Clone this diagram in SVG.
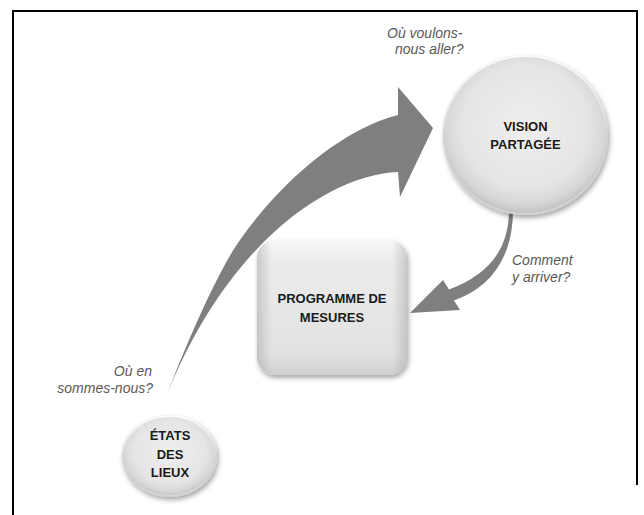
<svg xmlns="http://www.w3.org/2000/svg" width="644" height="515" viewBox="0 0 644 515">
  <defs>
    <style>
      .frame { stroke: #000; stroke-width: 2; fill: none; }
      .arrow { fill: #7f7f7f; }
      .q { font-family: "Liberation Sans", Arial, sans-serif; font-style: italic; font-size: 14px; fill: #595959; }
      .lbl { font-family: "Liberation Sans", Arial, sans-serif; font-weight: bold; font-size: 13px; fill: #1a1a1a; text-anchor: middle; }
    </style>
    <radialGradient id="gCircle" cx="50%" cy="45%" r="55%">
      <stop offset="0%" stop-color="#efefef"/>
      <stop offset="70%" stop-color="#e5e5e5"/>
      <stop offset="88%" stop-color="#d6d6d6"/>
      <stop offset="100%" stop-color="#bdbdbd"/>
    </radialGradient>
    <linearGradient id="gRim" x1="0" y1="0" x2="0" y2="1">
      <stop offset="0%" stop-color="#ffffff" stop-opacity="0.9"/>
      <stop offset="50%" stop-color="#ffffff" stop-opacity="0"/>
      <stop offset="100%" stop-color="#ffffff" stop-opacity="0.3"/>
    </linearGradient>
    <linearGradient id="gSqV" x1="0" y1="0" x2="0" y2="1">
      <stop offset="0%" stop-color="#f7f7f7"/>
      <stop offset="15%" stop-color="#ececec"/>
      <stop offset="85%" stop-color="#e2e2e2"/>
      <stop offset="100%" stop-color="#cfcfcf"/>
    </linearGradient>
    <linearGradient id="gSqH" x1="0" y1="0" x2="1" y2="0">
      <stop offset="0%" stop-color="#a0a0a0" stop-opacity="0.45"/>
      <stop offset="10%" stop-color="#a0a0a0" stop-opacity="0"/>
      <stop offset="90%" stop-color="#a0a0a0" stop-opacity="0"/>
      <stop offset="100%" stop-color="#a0a0a0" stop-opacity="0.45"/>
    </linearGradient>
    <filter id="shadow" x="-20%" y="-20%" width="150%" height="150%">
      <feDropShadow dx="1.5" dy="3" stdDeviation="2.5" flood-color="#000" flood-opacity="0.35"/>
    </filter>
  </defs>

  <rect width="644" height="515" fill="#ffffff"/>

  <g id="frame">
    <path class="frame" d="M13,515 V11 H637 V485"/>
  </g>

  <g id="connectors">
    <g id="arrow-etats-vision">
      <path class="arrow" d="M167.5,393 C180,360 215,275 240,240 C280,183 340,130 398,115 L398,87 L433,128 L400,197 L398,172 C330,175 230,240 167.5,393 Z"/>
    </g>
    <g id="arrow-vision-programme">
      <path class="arrow" d="M509,210 C509,250 488,275 449,289.5 L443,280 L410,313 L460,310 L454,300.5 C490,288 513,258 513,210 Z"/>
    </g>
  </g>

  <g id="node-vision">
    <ellipse cx="525.5" cy="135" rx="82.5" ry="80" fill="url(#gCircle)" filter="url(#shadow)"/>
    <ellipse cx="525.5" cy="135" rx="81.5" ry="79" fill="none" stroke="url(#gRim)" stroke-width="2"/>
    <text class="lbl" x="525.5" y="130.5">VISION</text>
    <text class="lbl" x="525.5" y="149">PARTAGÉE</text>
  </g>

  <g id="node-programme">
    <rect x="257" y="240" width="150" height="135" rx="18" fill="url(#gSqV)" filter="url(#shadow)"/>
    <rect x="257" y="240" width="150" height="135" rx="18" fill="url(#gSqH)"/>
    <text class="lbl" x="332" y="303">PROGRAMME DE</text>
    <text class="lbl" x="332" y="322">MESURES</text>
  </g>

  <g id="node-etats">
    <ellipse cx="169.5" cy="456" rx="47.5" ry="41" fill="url(#gCircle)" filter="url(#shadow)"/>
    <ellipse cx="169.5" cy="456" rx="46.5" ry="40" fill="none" stroke="url(#gRim)" stroke-width="2"/>
    <text class="lbl" x="170" y="440">ÉTATS</text>
    <text class="lbl" x="170" y="458.5">DES</text>
    <text class="lbl" x="170" y="477">LIEUX</text>
  </g>

  <g id="labels">
    <text class="q" x="387" y="38">Où voulons-</text>
    <text class="q" x="395" y="54">nous aller?</text>
    <text class="q" x="512" y="265">Comment</text>
    <text class="q" x="512" y="282">y arriver?</text>
    <text class="q" x="152" y="376" text-anchor="end">Où en</text>
    <text class="q" x="153" y="393" text-anchor="end">sommes-nous?</text>
  </g>
</svg>
